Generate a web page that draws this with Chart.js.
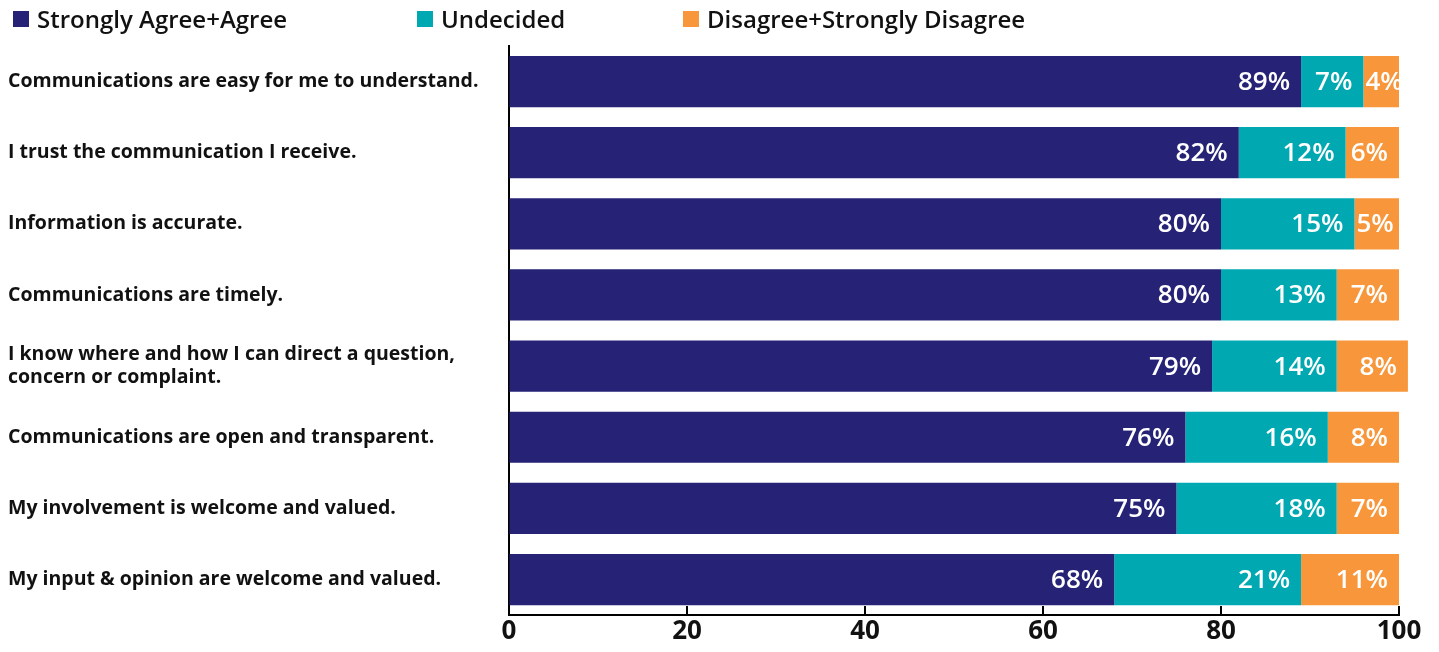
<!DOCTYPE html>
<html>
<head>
<meta charset="utf-8">
<script src="https://cdn.jsdelivr.net/npm/chart.js@4/dist/chart.umd.min.js"></script>
<style>
    html, body { margin: 0; padding: 0; background: #fff; }
    #wrap { position: relative; width: 1439px; height: 652px; }
    #legend { position: absolute; top: 0; left: 0; width: 100%; height: 40px; font-family: "Open Sans", sans-serif; font-weight: 600; font-size: 24px; color: #111; }
    .item { position: absolute; top: 2px; display: flex; align-items: center; }
    .box { width: 16px; height: 16px; margin-right: 8px; }
</style>
</head>
<body>
<div id="wrap">
    <canvas id="chart" width="1439" height="652"></canvas>
    <div id="legend"></div>
</div>
<script>
const questions = [
    "Communications are easy for me to understand.",
    "I trust the communication I receive.",
    "Information is accurate.",
    "Communications are timely.",
    ["I know where and how I can direct a question,", "concern or complaint."],
    "Communications are open and transparent.",
    "My involvement is welcome and valued.",
    "My input & opinion are welcome and valued.",
];
const agree = [89, 82, 80, 80, 79, 76, 75, 68];
const undecided = [7, 12, 15, 13, 14, 16, 18, 21];
const disagree = [4, 6, 5, 7, 8, 8, 7, 11];
const xTicks = [0, 20, 40, 60, 80, 100];

const seriesNames = ["Strongly Agree+Agree", "Undecided", "Disagree+Strongly Disagree"];
const colors = ["#262276", "#00A9B2", "#F7963A"];

// legend (html, so item spacing can follow the original)
const legendLeft = [13, 417, 683];
const legend = document.getElementById("legend");
seriesNames.forEach((name, i) => {
    const item = document.createElement("div");
    item.className = "item";
    item.style.left = legendLeft[i] + "px";
    item.innerHTML = `<span class="box" style="background:${colors[i]}"></span><span>${name}</span>`;
    legend.appendChild(item);
});

// white % labels at the right end of each segment, clipped to the segment
const valueLabels = {
    id: "valueLabels",
    afterDatasetsDraw(chart) {
        const ctx = chart.ctx;
        ctx.font = "600 26px 'Open Sans', sans-serif";
        ctx.fillStyle = "#fff";
        ctx.textAlign = "right";
        ctx.textBaseline = "middle";
        chart.data.datasets.forEach((ds, di) => {
            chart.getDatasetMeta(di).data.forEach((bar, i) => {
                const text = ds.data[i] + "%";
                const w = ctx.measureText(text).width;
                let right = bar.x - 11;
                if (right - w < bar.base + 2) right = bar.base + 2 + w;
                ctx.save();
                ctx.beginPath();
                ctx.rect(bar.base, bar.y - bar.height / 2, bar.x - bar.base, bar.height);
                ctx.clip();
                ctx.fillText(text, right, bar.y + 1);
                ctx.restore();
            });
        });
    },
};

// tick marks pointing up into the plot
const innerTicks = {
    id: "innerTicks",
    afterDraw(chart) {
        const ctx = chart.ctx;
        const xs = chart.scales.x;
        const bottom = chart.chartArea.bottom;
        ctx.save();
        ctx.strokeStyle = "#000";
        ctx.lineWidth = 2;
        xTicks.forEach((v) => {
            const px = xs.getPixelForValue(v);
            ctx.beginPath();
            ctx.moveTo(px, bottom);
            ctx.lineTo(px, bottom - 9);
            ctx.stroke();
        });
        ctx.restore();
    },
};

new Chart(document.getElementById("chart"), {
    type: "bar",
    data: {
        labels: questions,
        datasets: [
            { label: seriesNames[0], data: agree, backgroundColor: colors[0], clip: false },
            { label: seriesNames[1], data: undecided, backgroundColor: colors[1], clip: false },
            { label: seriesNames[2], data: disagree, backgroundColor: colors[2], clip: false },
        ],
    },
    options: {
        indexAxis: "y",
        responsive: false,
        animation: false,
        layout: { padding: { top: 46, left: 8, right: 40, bottom: 3 } },
        plugins: {
            legend: { display: false },
            tooltip: { enabled: false },
        },
        datasets: { bar: { barPercentage: 0.72, categoryPercentage: 1.0 } },
        scales: {
            x: {
                stacked: true,
                min: 0,
                max: 100,
                afterBuildTicks: (axis) => { axis.ticks = xTicks.map((v) => ({ value: v })); },
                grid: { drawOnChartArea: false, drawTicks: false },
                border: { color: "#000", width: 2 },
                ticks: {
                    padding: 2,
                    color: "#111",
                    font: { family: "'Open Sans', sans-serif", size: 26, weight: "bold", lineHeight: 1.15 },
                },
            },
            y: {
                stacked: true,
                afterFit: (axis) => { axis.width = 501; },
                grid: { drawOnChartArea: false, drawTicks: false },
                border: { color: "#000", width: 2 },
                ticks: {
                    crossAlign: "far",
                    padding: 0,
                    color: "#111",
                    font: { family: "'Open Sans', sans-serif", size: 19.5, weight: "bold", lineHeight: 1.2 },
                },
            },
        },
    },
    plugins: [valueLabels, innerTicks],
});
</script>
</body>
</html>
